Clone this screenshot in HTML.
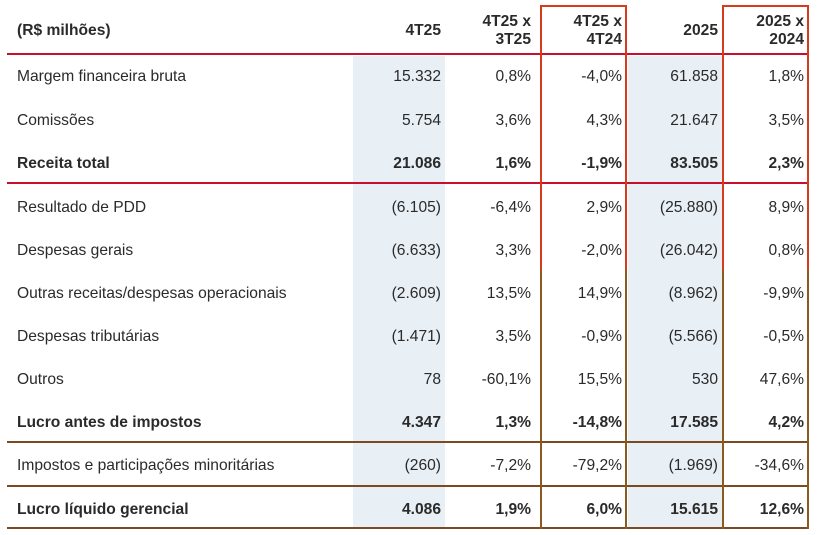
<!DOCTYPE html>
<html><head><meta charset="utf-8"><style>
body{margin:0;background:#fff;}
#c{position:relative;width:817px;height:535px;overflow:hidden;font-family:"Liberation Sans",Arial,sans-serif;font-size:15.6px;color:#2a2a2a;}
.a{position:absolute;}
.t{position:absolute;white-space:nowrap;line-height:18px;}
.r{text-align:right;}
.b{font-weight:bold;}
</style></head><body><div id="c">
<div class="a" style="left:353px;top:56px;width:92px;height:472px;background:#e8eff5"></div>
<div class="a" style="left:628px;top:56px;width:94px;height:472px;background:#e8eff5"></div>
<div class="a" style="left:7px;top:53px;width:801px;height:2px;background:#c8102e"></div>
<div class="a" style="left:7px;top:182px;width:801px;height:2px;background:#c8102e"></div>
<div class="a" style="left:7px;top:441px;width:801px;height:2px;background:#7a4a20"></div>
<div class="a" style="left:7px;top:485px;width:801px;height:2px;background:#7a4a20"></div>
<div class="a" style="left:7px;top:527px;width:801px;height:2px;background:#7a4a20"></div>
<div class="a" style="left:540px;top:5px;width:87px;height:2px;background:#d83a1e"></div>
<div class="a" style="left:722px;top:5px;width:87px;height:2px;background:#d83a1e"></div>
<div class="a" style="left:540px;top:5px;width:2px;height:265px;background:#d83a1e"></div>
<div class="a" style="left:625px;top:5px;width:2px;height:265px;background:#d83a1e"></div>
<div class="a" style="left:722px;top:5px;width:2px;height:265px;background:#d83a1e"></div>
<div class="a" style="left:807px;top:5px;width:2px;height:265px;background:#d83a1e"></div>
<div class="a" style="left:540px;top:270px;width:2px;height:259px;background:#8a5a20"></div>
<div class="a" style="left:625px;top:270px;width:2px;height:259px;background:#8a5a20"></div>
<div class="a" style="left:722px;top:270px;width:2px;height:259px;background:#8a5a20"></div>
<div class="a" style="left:807px;top:270px;width:2px;height:259px;background:#8a5a20"></div>
<div class="t b" style="left:17px;top:22px">(R$ milhões)</div>
<div class="t b r" style="left:341px;width:100px;top:22px">4T25</div>
<div class="t b r" style="left:431px;width:100px;top:13px">4T25 x<br>3T25</div>
<div class="t b r" style="left:522px;width:100px;top:13px">4T25 x<br>4T24</div>
<div class="t b r" style="left:618px;width:100px;top:22px">2025</div>
<div class="t b r" style="left:704px;width:100px;top:13px">2025 x<br>2024</div>
<div id="rows"></div>
</div>
<script>
var d=[
[75,"Margem financeira bruta","15.332","0,8%","-4,0%","61.858","1,8%",0],
[119,"Comissões","5.754","3,6%","4,3%","21.647","3,5%",0],
[162,"Receita total","21.086","1,6%","-1,9%","83.505","2,3%",1],
[206,"Resultado de PDD","(6.105)","-6,4%","2,9%","(25.880)","8,9%",0],
[249,"Despesas gerais","(6.633)","3,3%","-2,0%","(26.042)","0,8%",0],
[292,"Outras receitas/despesas operacionais","(2.609)","13,5%","14,9%","(8.962)","-9,9%",0],
[335,"Despesas tributárias","(1.471)","3,5%","-0,9%","(5.566)","-0,5%",0],
[378,"Outros","78","-60,1%","15,5%","530","47,6%",0],
[421,"Lucro antes de impostos","4.347","1,3%","-14,8%","17.585","4,2%",1],
[464,"Impostos e participações minoritárias","(260)","-7,2%","-79,2%","(1.969)","-34,6%",0],
[508,"Lucro líquido gerencial","4.086","1,9%","6,0%","15.615","12,6%",1]];
var R=[441,531,622,718,804],h="";
d.forEach(function(r){var y=r[0]-7,b=r[7]?" b":"";
h+='<div class="t'+b+'" style="left:17px;top:'+y+'px">'+r[1]+'</div>';
for(var i=0;i<5;i++)h+='<div class="t r'+b+'" style="left:'+(R[i]-120)+'px;width:120px;top:'+y+'px">'+r[2+i]+'</div>';});
document.getElementById("rows").innerHTML=h;
</script>
</body></html>
